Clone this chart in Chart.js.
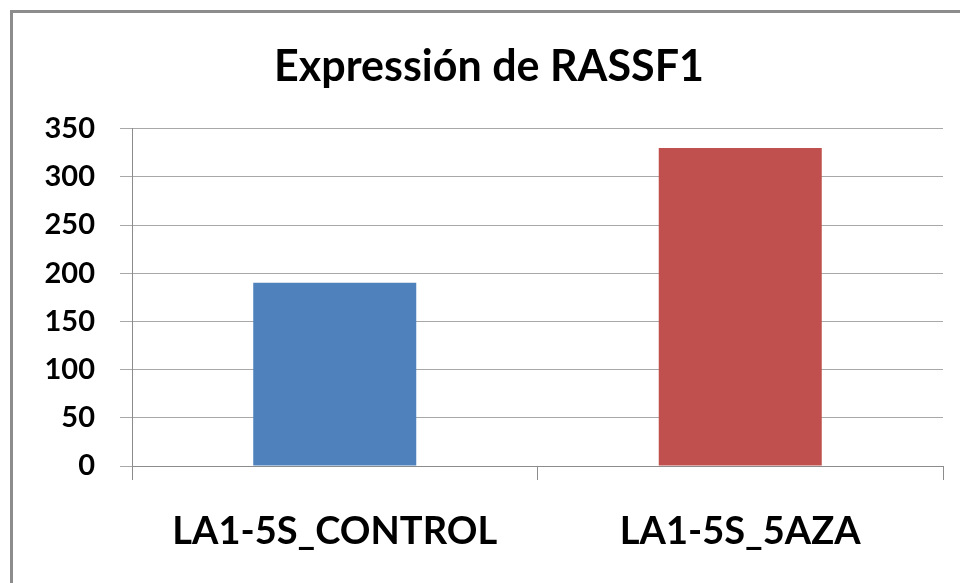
<!DOCTYPE html>
<html>
<head>
<meta charset="utf-8">
<script src="https://cdn.jsdelivr.net/npm/chart.js@4"></script>
<style>
  body { margin: 0; background: #ffffff; }
  #frame {
    position: absolute; left: 10px; top: 10px;
    width: 1000px; height: 620px;
    border: 3px solid #8c8c8c; box-sizing: border-box;
  }
  #wrap { position: absolute; left: 0; top: 0; width: 960px; height: 583px; }
</style>
</head>
<body>
<div id="frame"></div>
<div id="wrap"><canvas id="chart"></canvas></div>
<script>
// 데이터
const categories = ['LA1-5S_CONTROL', 'LA1-5S_5AZA'];
const values = [190, 330];
const barColors = ['#4F81BD', '#C0504D'];
const yTicks = [0, 50, 100, 150, 200, 250, 300, 350];
const titleText = 'Expressión de RASSF1';

const FONT = 'Lato, "Open Sans", sans-serif';

const ctx = document.getElementById('chart').getContext('2d');
new Chart(ctx, {
    type: 'bar',
    data: {
        labels: categories,
        datasets: [{
            data: values,
            backgroundColor: barColors,
            borderWidth: 0,
            categoryPercentage: 1,
            barPercentage: 0.402
        }]
    },
    options: {
        responsive: true,
        maintainAspectRatio: false,
        animation: false,
        // 왼쪽 여백은 제목을 원본 위치로 옮기기 위한 것
        layout: { padding: { left: 35, right: 17, top: 0, bottom: 0 } },
        plugins: {
            legend: { display: false },
            tooltip: { enabled: false },
            title: {
                display: true,
                text: titleText,
                color: '#000000',
                font: { family: FONT, size: 43, weight: 'bold', lineHeight: 1.2 },
                padding: { top: 41, bottom: 36 }
            }
        },
        scales: {
            x: {
                grid: {
                    display: true,
                    drawOnChartArea: false,
                    offset: true,
                    tickLength: 14,
                    color: '#8c8c8c'
                },
                border: { color: '#8c8c8c', width: 1 },
                ticks: {
                    color: '#000000',
                    padding: 29,
                    font: { family: FONT, size: 38, weight: 'bold' }
                },
                afterFit: (scale) => { scale.height = 117; }
            },
            y: {
                min: 0,
                max: 350,
                afterBuildTicks: (scale) => {
                    scale.ticks = yTicks.map(v => ({ value: v }));
                },
                grid: {
                    color: '#a8a8a8',
                    tickLength: 12
                },
                border: { color: '#8c8c8c', width: 1 },
                ticks: {
                    color: '#000000',
                    padding: 25,
                    font: { family: FONT, size: 29, weight: 'bold' }
                },
                afterFit: (scale) => { scale.width = 97; }
            }
        }
    }
});
</script>
</body>
</html>
